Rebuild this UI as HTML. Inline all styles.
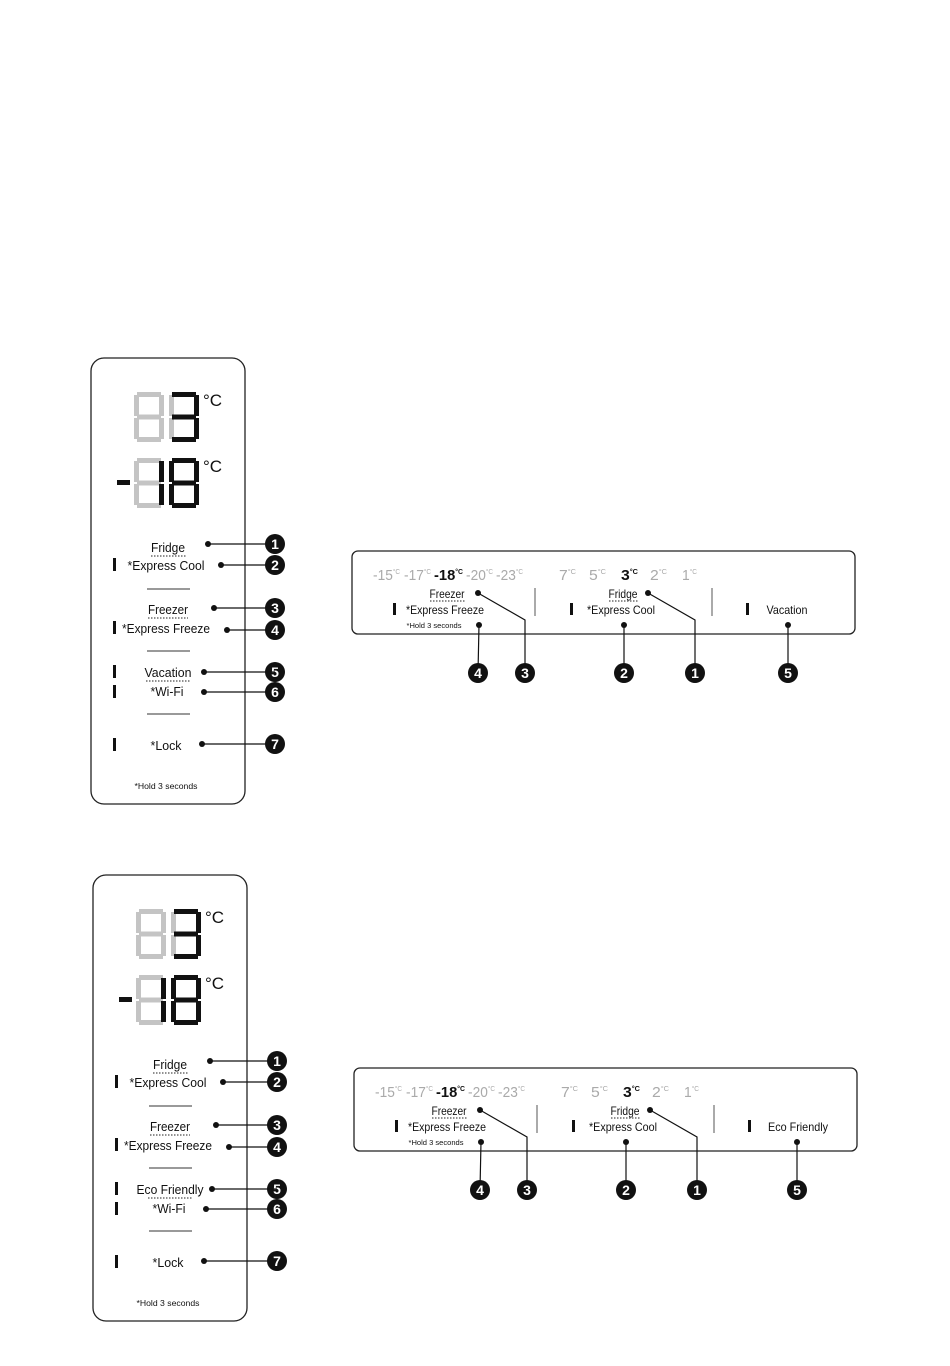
<!DOCTYPE html>
<html><head><meta charset="utf-8"><style>
html,body{margin:0;padding:0;background:#fff}
svg{display:block}
text{font-family:"Liberation Sans",sans-serif;fill:#111}
.g{fill:#c4c4c4}.k{fill:#111}
.n{fill:#fff;font-family:"Liberation Sans",sans-serif;font-weight:bold;font-size:14px}
.t{font-size:15px;fill:#aaa}
.tb{fill:#111;font-weight:bold}
</style></head><body>
<svg width="950" height="1366" viewBox="0 0 950 1366" xmlns="http://www.w3.org/2000/svg">
<defs>
<g id="d8">
<rect x="3" y="0" width="24" height="5"/><rect x="25" y="3" width="5" height="21"/><rect x="25" y="26" width="5" height="21"/><rect x="3" y="45" width="24" height="5"/><rect x="0" y="26" width="5" height="21"/><rect x="0" y="3" width="5" height="21"/><rect x="3" y="22.5" width="24" height="5"/>
</g>
<g id="vp">
<rect x="91" y="358" width="154" height="446" rx="13" fill="none" stroke="#222" stroke-width="1.3"/>
<use href="#d8" x="134" y="392" class="g"/>
<use href="#d8" x="169" y="392" class="g"/>
<g class="k"><rect x="172" y="392" width="24" height="5"/><rect x="194" y="395" width="5" height="21"/><rect x="194" y="418" width="5" height="21"/><rect x="172" y="437" width="24" height="5"/><rect x="172" y="414.5" width="24" height="5"/></g>
<text x="203" y="406" style="font-size:17px">°C</text>
<rect x="117" y="480" width="13" height="5" class="k"/>
<use href="#d8" x="134" y="458" class="g"/>
<g class="k"><rect x="159" y="461" width="5" height="21"/><rect x="159" y="484" width="5" height="21"/></g>
<use href="#d8" x="169" y="458" class="k"/>
<text x="203" y="472" style="font-size:17px">°C</text>
<g font-size="13" text-anchor="middle" lengthAdjust="spacingAndGlyphs">
<text x="168" y="552" textLength="34" lengthAdjust="spacingAndGlyphs">Fridge</text>
<text x="166" y="570" textLength="77" lengthAdjust="spacingAndGlyphs">*Express Cool</text>
<text x="168" y="614" textLength="40" lengthAdjust="spacingAndGlyphs">Freezer</text>
<text x="166" y="633" textLength="88" lengthAdjust="spacingAndGlyphs">*Express Freeze</text>
<text x="167" y="696" textLength="33" lengthAdjust="spacingAndGlyphs">*Wi-Fi</text>
<text x="166" y="750" textLength="31" lengthAdjust="spacingAndGlyphs">*Lock</text>
<text x="166" y="789" font-size="8.5" textLength="63" lengthAdjust="spacingAndGlyphs">*Hold 3 seconds</text>
</g>
<g stroke="#222" stroke-width="1" stroke-dasharray="1.5,1.5"><line x1="151" y1="556" x2="186" y2="556"/><line x1="148" y1="618" x2="188" y2="618"/><line x1="146" y1="681" x2="190" y2="681"/></g>
<g stroke="#333" stroke-width="1"><line x1="147" y1="589" x2="190" y2="589"/><line x1="147" y1="651" x2="190" y2="651"/><line x1="147" y1="714" x2="190" y2="714"/></g>
<g class="k"><rect x="113" y="558" width="3" height="13"/><rect x="113" y="621" width="3" height="13"/><rect x="113" y="665" width="3" height="13"/><rect x="113" y="685" width="3" height="13"/><rect x="113" y="738" width="3" height="13"/></g>
<g stroke="#111" stroke-width="1.2"><line x1="208" y1="544" x2="275" y2="544"/><line x1="221" y1="565" x2="275" y2="565"/><line x1="214" y1="608" x2="275" y2="608"/><line x1="227" y1="630" x2="275" y2="630"/><line x1="204" y1="692" x2="275" y2="692"/><line x1="202" y1="744" x2="275" y2="744"/></g>
<g class="k"><circle cx="208" cy="544" r="3"/><circle cx="221" cy="565" r="3"/><circle cx="214" cy="608" r="3"/><circle cx="227" cy="630" r="3"/><circle cx="204" cy="692" r="3"/><circle cx="202" cy="744" r="3"/>
<circle cx="275" cy="544" r="10"/><circle cx="275" cy="565" r="10"/><circle cx="275" cy="608" r="10"/><circle cx="275" cy="630" r="10"/><circle cx="275" cy="672" r="10"/><circle cx="275" cy="692" r="10"/><circle cx="275" cy="744" r="10"/></g>
<g text-anchor="middle"><text class="n" x="275" y="549">1</text><text class="n" x="275" y="570">2</text><text class="n" x="275" y="613">3</text><text class="n" x="275" y="635">4</text><text class="n" x="275" y="677">5</text><text class="n" x="275" y="697">6</text><text class="n" x="275" y="749">7</text></g>
</g>
<g id="hp">
<rect x="352" y="551" width="503" height="83" rx="6" fill="none" stroke="#222" stroke-width="1.3"/>
<text class="t" x="373" y="580" textLength="27" lengthAdjust="spacingAndGlyphs">-15<tspan font-size="7" dy="-6">°C</tspan></text>
<text class="t" x="404" y="580" textLength="27" lengthAdjust="spacingAndGlyphs">-17<tspan font-size="7" dy="-6">°C</tspan></text>
<text class="t tb" x="434" y="580" textLength="29" lengthAdjust="spacingAndGlyphs">-18<tspan font-size="7" dy="-6">°C</tspan></text>
<text class="t" x="466" y="580" textLength="27" lengthAdjust="spacingAndGlyphs">-20<tspan font-size="7" dy="-6">°C</tspan></text>
<text class="t" x="496" y="580" textLength="27" lengthAdjust="spacingAndGlyphs">-23<tspan font-size="7" dy="-6">°C</tspan></text>
<text class="t" x="559" y="580" textLength="17" lengthAdjust="spacingAndGlyphs">7<tspan font-size="7" dy="-6">°C</tspan></text>
<text class="t" x="589" y="580" textLength="17" lengthAdjust="spacingAndGlyphs">5<tspan font-size="7" dy="-6">°C</tspan></text>
<text class="t tb" x="621" y="580" textLength="17" lengthAdjust="spacingAndGlyphs">3<tspan font-size="7" dy="-6">°C</tspan></text>
<text class="t" x="650" y="580" textLength="17" lengthAdjust="spacingAndGlyphs">2<tspan font-size="7" dy="-6">°C</tspan></text>
<text class="t" x="682" y="580" textLength="15" lengthAdjust="spacingAndGlyphs">1<tspan font-size="7" dy="-6">°C</tspan></text>
<g stroke="#555" stroke-width="1"><line x1="535" y1="588" x2="535" y2="616"/><line x1="712" y1="588" x2="712" y2="616"/></g>
<g font-size="12" text-anchor="middle">
<text x="447" y="598" textLength="35" lengthAdjust="spacingAndGlyphs">Freezer</text>
<text x="445" y="614" textLength="78" lengthAdjust="spacingAndGlyphs">*Express Freeze</text>
<text x="434" y="628" font-size="7.5" textLength="55" lengthAdjust="spacingAndGlyphs">*Hold 3 seconds</text>
<text x="623" y="598" textLength="29" lengthAdjust="spacingAndGlyphs">Fridge</text>
<text x="621" y="614" textLength="68" lengthAdjust="spacingAndGlyphs">*Express Cool</text>
</g>
<g stroke="#222" stroke-width="1" stroke-dasharray="1.5,1.5"><line x1="430" y1="601" x2="465" y2="601"/><line x1="609" y1="601" x2="638" y2="601"/></g>
<g class="k"><rect x="393" y="603" width="3" height="12"/><rect x="570" y="603" width="3" height="12"/><rect x="746" y="603" width="3" height="12"/></g>
<g stroke="#111" stroke-width="1.2" fill="none"><polyline points="478,593 525,620 525,673"/><polyline points="479,625 478,673"/><polyline points="648,593 695,620 695,673"/><polyline points="624,625 624,673"/></g>
<g class="k"><circle cx="478" cy="593" r="3"/><circle cx="479" cy="625" r="3"/><circle cx="648" cy="593" r="3"/><circle cx="624" cy="625" r="3"/>
<circle cx="478" cy="673" r="10"/><circle cx="525" cy="673" r="10"/><circle cx="624" cy="673" r="10"/><circle cx="695" cy="673" r="10"/></g>
<g text-anchor="middle"><text class="n" x="478" y="678">4</text><text class="n" x="525" y="678">3</text><text class="n" x="624" y="678">2</text><text class="n" x="695" y="678">1</text></g>
</g>
</defs>

<use href="#vp"/>
<text x="168" y="677" font-size="13" text-anchor="middle" textLength="47" lengthAdjust="spacingAndGlyphs">Vacation</text>
<line x1="204" y1="672" x2="275" y2="672" stroke="#111" stroke-width="1.2"/>
<circle cx="204" cy="672" r="3" class="k"/>
<use href="#hp"/>
<text x="787" y="614" font-size="12" text-anchor="middle" textLength="41" lengthAdjust="spacingAndGlyphs">Vacation</text>
<line x1="788" y1="625" x2="788" y2="673" stroke="#111" stroke-width="1.2"/>
<circle cx="788" cy="625" r="3" class="k"/><circle cx="788" cy="673" r="10" class="k"/>
<text class="n" x="788" y="678" text-anchor="middle">5</text>

<g transform="translate(2,517)">
<use href="#vp"/>
<text x="168" y="677" font-size="13" text-anchor="middle" textLength="67" lengthAdjust="spacingAndGlyphs">Eco Friendly</text>
<line x1="210" y1="672" x2="275" y2="672" stroke="#111" stroke-width="1.2"/>
<circle cx="210" cy="672" r="3" class="k"/>
<use href="#hp"/>
<text x="796" y="614" font-size="12" text-anchor="middle" textLength="60" lengthAdjust="spacingAndGlyphs">Eco Friendly</text>
<line x1="795" y1="625" x2="795" y2="673" stroke="#111" stroke-width="1.2"/>
<circle cx="795" cy="625" r="3" class="k"/><circle cx="795" cy="673" r="10" class="k"/>
<text class="n" x="795" y="678" text-anchor="middle">5</text>
</g>
</svg>
</body></html>
